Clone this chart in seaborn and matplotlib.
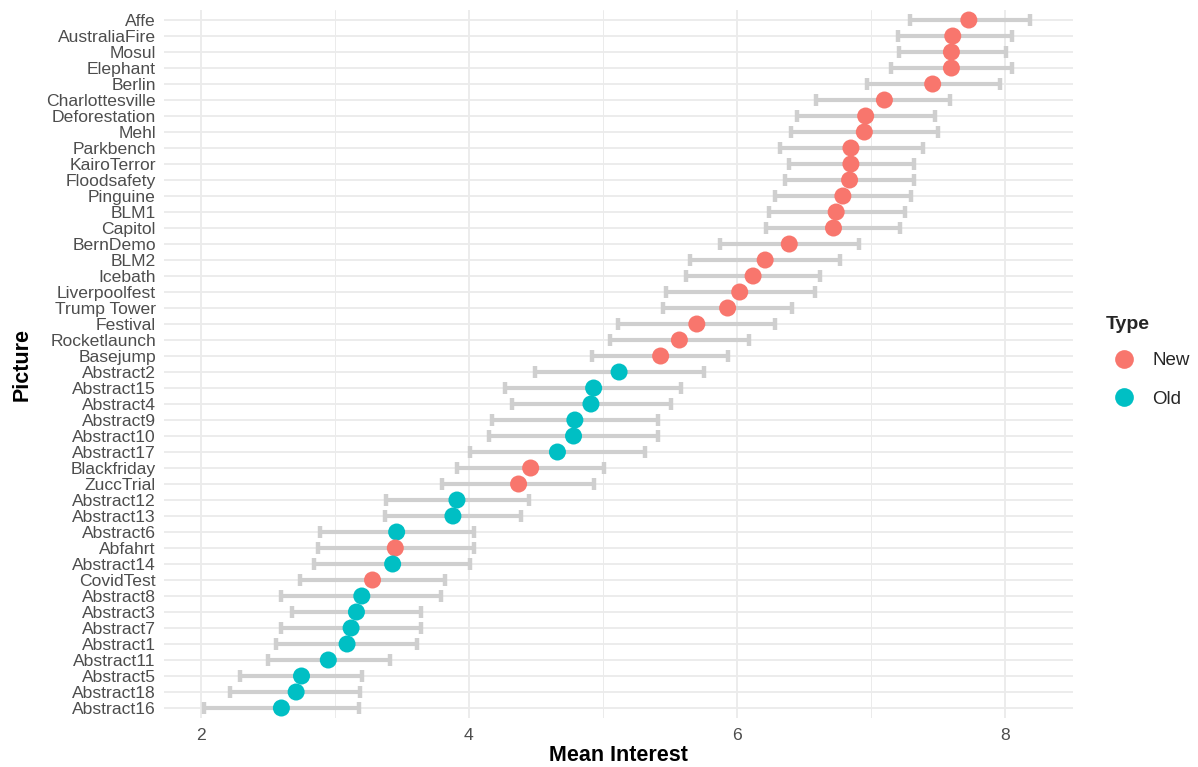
import numpy as np
import pandas as pd
import matplotlib
matplotlib.use("Agg")
import matplotlib.pyplot as plt
import seaborn as sns

# Pictures, top to bottom
pictures = ["Affe", "AustraliaFire", "Mosul", "Elephant", "Berlin", "Charlottesville",
            "Deforestation", "Mehl", "Parkbench", "KairoTerror", "Floodsafety", "Pinguine",
            "BLM1", "Capitol", "BernDemo", "BLM2", "Icebath", "Liverpoolfest", "Trump Tower",
            "Festival", "Rocketlaunch", "Basejump", "Abstract2", "Abstract15", "Abstract4",
            "Abstract9", "Abstract10", "Abstract17", "Blackfriday", "ZuccTrial", "Abstract12",
            "Abstract13", "Abstract6", "Abfahrt", "Abstract14", "CovidTest", "Abstract8",
            "Abstract3", "Abstract7", "Abstract1", "Abstract11", "Abstract5", "Abstract18",
            "Abstract16"]

types = ["New", "New", "New", "New", "New", "New",
         "New", "New", "New", "New", "New", "New",
         "New", "New", "New", "New", "New", "New", "New",
         "New", "New", "New", "Old", "Old", "Old",
         "Old", "Old", "Old", "New", "New", "Old",
         "Old", "Old", "New", "Old", "New", "Old",
         "Old", "Old", "Old", "Old", "Old", "Old",
         "Old"]

mean_interest = [7.73, 7.61, 7.60, 7.60, 7.46, 7.10,
                 6.96, 6.95, 6.85, 6.85, 6.84, 6.79,
                 6.74, 6.72, 6.39, 6.21, 6.12, 6.02, 5.93,
                 5.70, 5.57, 5.43, 5.12, 4.93, 4.91,
                 4.79, 4.78, 4.66, 4.46, 4.37, 3.91,
                 3.88, 3.46, 3.45, 3.43, 3.28, 3.20,
                 3.16, 3.12, 3.09, 2.95, 2.75, 2.71,
                 2.60]

ci_low = [7.29, 7.20, 7.21, 7.15, 6.97, 6.59,
          6.45, 6.40, 6.32, 6.39, 6.36, 6.28,
          6.24, 6.22, 5.87, 5.65, 5.62, 5.47, 5.45,
          5.11, 5.05, 4.92, 4.49, 4.27, 4.32,
          4.17, 4.15, 4.01, 3.91, 3.80, 3.38,
          3.37, 2.89, 2.87, 2.84, 2.74, 2.60,
          2.68, 2.60, 2.56, 2.50, 2.29, 2.22,
          2.02]

ci_high = [8.19, 8.05, 8.01, 8.05, 7.96, 7.59,
           7.48, 7.50, 7.39, 7.32, 7.32, 7.30,
           7.25, 7.22, 6.91, 6.77, 6.62, 6.58, 6.41,
           6.28, 6.09, 5.93, 5.75, 5.58, 5.51,
           5.41, 5.41, 5.31, 5.01, 4.93, 4.45,
           4.39, 4.04, 4.04, 4.01, 3.82, 3.79,
           3.64, 3.64, 3.61, 3.41, 3.20, 3.19,
           3.18]

df = pd.DataFrame({"Picture": pictures, "Type": types, "Mean": mean_interest,
                   "Low": ci_low, "High": ci_high})

sns.set_theme(style="white")
plt.rcParams["font.family"] = ["Liberation Sans", "DejaVu Sans"]

fig = plt.figure(figsize=(11.98, 7.67), dpi=100)
ax = fig.add_axes([0.1369, 0.0644, 0.7585, 0.922])

grid_col = "#EBEBEB"
n = len(df)

# error bars (confidence intervals)
ax.errorbar(df["Mean"], df["Picture"],
            xerr=[df["Mean"] - df["Low"], df["High"] - df["Mean"]],
            fmt="none", ecolor="#CFCFCF", elinewidth=3.0, capsize=4.0, capthick=3.2,
            zorder=2)

palette = {"New": "#F8766D", "Old": "#00BFC4"}
sns.scatterplot(data=df, x="Mean", y="Picture", hue="Type", hue_order=["New", "Old"],
                palette=palette, s=150, linewidth=0, alpha=1, ax=ax, zorder=3)

ax.set_xlim(1.724, 8.505)
ax.set_ylim(n - 1 + 0.6, -0.6)

ax.set_xticks([2, 4, 6, 8])
ax.set_xticks([3, 5, 7], minor=True)
ax.grid(True, which="major", axis="both", color=grid_col, linewidth=1.3, zorder=0)
ax.grid(True, which="minor", axis="x", color=grid_col, linewidth=0.7, zorder=0)
ax.set_axisbelow(True)

for sp in ax.spines.values():
    sp.set_visible(False)

ax.tick_params(axis="both", which="major", length=3.8, width=1.4, color="#333333",
               labelcolor="#4D4D4D", labelsize=12.6, pad=2)
ax.tick_params(axis="x", which="minor", length=0)
ax.tick_params(axis="x", which="major", pad=4)

ax.set_xlabel("Mean Interest", fontsize=15.5, fontweight="bold", color="black", labelpad=1)
ax.set_ylabel("Picture", fontsize=15.5, fontweight="bold", color="black", labelpad=10)

sns.move_legend(ax, "center left", bbox_to_anchor=(1.028, 0.503), frameon=False,
                title="Type", fontsize=13.5, markerscale=1.1, handletextpad=0.5,
                labelspacing=1.15, borderaxespad=0)
leg = ax.get_legend()
leg.get_title().set_fontweight("bold")
leg.get_title().set_fontsize(14)
leg._legend_box.align = "left"
leg._legend_box.sep = 14

fig.savefig("out.png", dpi=100, facecolor="white")
